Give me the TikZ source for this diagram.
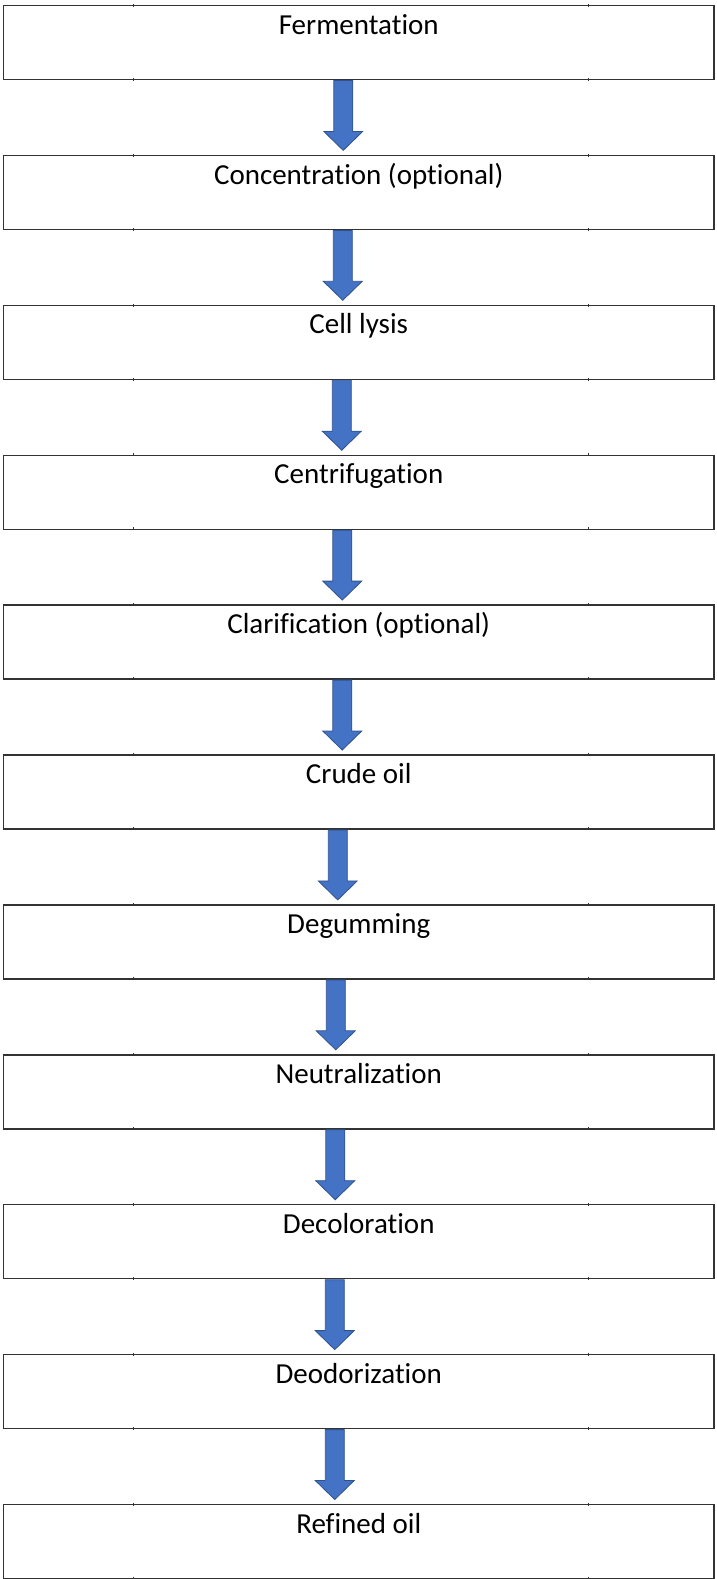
\documentclass[tikz,border=0pt]{standalone}
\usepackage{fontspec}
\setmainfont[Ligatures=NoCommon,Contextuals=NoAlternate]{Carlito}
\usetikzlibrary{calc}
\definecolor{flechaazul}{HTML}{4472C4}
\definecolor{flechaborde}{HTML}{2F528F}
\tikzstyle{paso}=[draw=black!80, line width=1.4pt, minimum width=710.5pt,
  inner sep=0pt, outer sep=0pt, text height=28.6pt, text depth=45.4pt,
  anchor=north, font=\fontsize{29}{34}\selectfont]
\tikzstyle{flecha}=[fill=flechaazul, draw=flechaborde, line width=0.8pt]
\tikzstyle{marca}=[draw=black!80, line width=1pt]
\newcommand{\paso}[2]{node (#1) [paso] {#2}}
% block arrow from box #1 down to box #2, shifted by #3 from the centre
\newcommand{\flecha}[3]{%
  \path[flecha] ($(#1.south)+(#3-9.5,-1)$) -- ($(#1.south)+(#3+9.5,-1)$)
    -- ($(#2.north)+(#3+9.5,24)$) -- ($(#2.north)+(#3+19.5,24)$)
    -- ($(#2.north)+(#3,5)$) -- ($(#2.north)+(#3-19.5,24)$)
    -- ($(#2.north)+(#3-9.5,24)$) -- cycle;}

\begin{document}
\begin{tikzpicture}[x=1pt,y=1pt]
  \useasboundingbox (0,0) rectangle (716,-1579);

  % process steps
  \path (358.75,-5.5) \paso{FERM}{Fermentation};
  \path (FERM.south)+(0,-75.9) \paso{CONC}{Concentration (optional)};
  \path (CONC.south)+(0,-75.9) \paso{LYSIS}{Cell lysis};
  \path (LYSIS.south)+(0,-75.9) \paso{CENTRI}{Centrifugation};
  \path (CENTRI.south)+(0,-75.9) \paso{CLARI}{Clarification (optional)};
  \path (CLARI.south)+(0,-75.9) \paso{CRUDE}{Crude oil};
  \path (CRUDE.south)+(0,-75.9) \paso{DEGUM}{Degumming};
  \path (DEGUM.south)+(0,-75.9) \paso{NEUTRAL}{Neutralization};
  \path (NEUTRAL.south)+(0,-75.9) \paso{DECOLOR}{Decoloration};
  \path (DECOLOR.south)+(0,-75.9) \paso{DEODOR}{Deodorization};
  \path (DEODOR.south)+(0,-75.9) \paso{REFINED}{Refined oil};

  % small column marks on the box edges
  \foreach \b in {FERM,CONC,LYSIS,CENTRI,CLARI,CRUDE,DEGUM,NEUTRAL,DECOLOR,DEODOR,REFINED}{
    \path[marca] (\b.north)+(-225.5,1.8) -- +(-225.5,-1.2);
    \path[marca] (\b.north)+(229.5,1.8) -- +(229.5,-1.2);
    \path[marca] (\b.south)+(-225.5,1.8) -- +(-225.5,-1.2);
    \path[marca] (\b.south)+(229.5,1.8) -- +(229.5,-1.2);
  }

  % arrows between steps
  \flecha{FERM}{CONC}{-15.5}
  \flecha{CONC}{LYSIS}{-16}
  \flecha{LYSIS}{CENTRI}{-17}
  \flecha{CENTRI}{CLARI}{-16.5}
  \flecha{CLARI}{CRUDE}{-16.5}
  \flecha{CRUDE}{DEGUM}{-21}
  \flecha{DEGUM}{NEUTRAL}{-23}
  \flecha{NEUTRAL}{DECOLOR}{-23.5}
  \flecha{DECOLOR}{DEODOR}{-24}
  \flecha{DEODOR}{REFINED}{-24}

\end{tikzpicture}
\end{document}
